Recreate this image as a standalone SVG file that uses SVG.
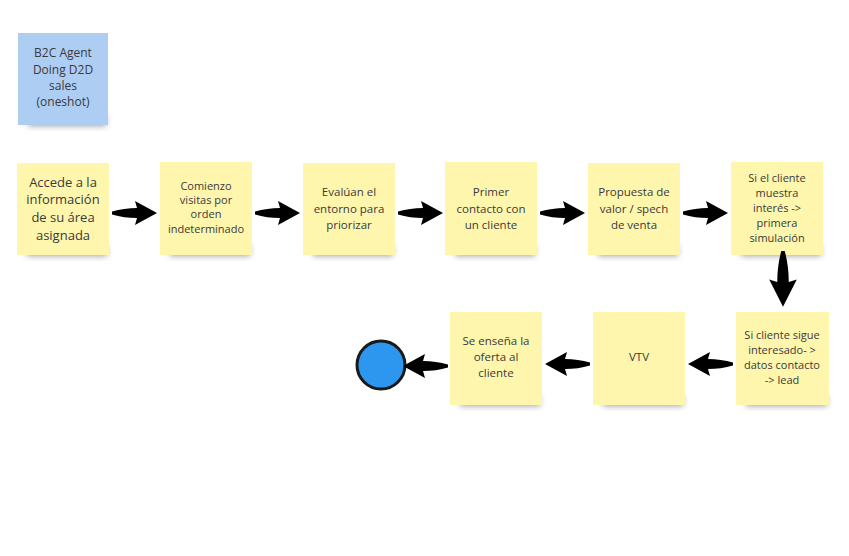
<svg xmlns="http://www.w3.org/2000/svg" width="849" height="556" viewBox="0 0 849 556">
<style>
.note{fill:#fff6ad}
.blue{fill:#aecdf3}
.sh{fill:#444;opacity:0.5;filter:url(#blur)}
.t{font-family:"Open Sans","Liberation Sans",sans-serif;fill:#3a3a3a;text-anchor:middle}
.arr{fill:#000}
</style>
<defs>
<filter id="blur" x="-20%" y="-50%" width="140%" height="200%"><feGaussianBlur stdDeviation="3"/></filter>
<path id="a" d="M0,-1.5 Q12,-5 25,-5 L23,-12 L45,0 L23,12 L25,5 Q12,5 0,1.5 Z"/>
</defs>
<rect width="849" height="556" fill="#fff"/>

<g id="n0">
<rect class="sh" x="28" y="116" width="78" height="10"/>
<rect class="blue" x="18" y="33" width="90" height="92"/>
<text class="t" font-size="12" x="63" y="57">B2C Agent</text>
<text class="t" font-size="12" x="63" y="74">Doing D2D</text>
<text class="t" font-size="12" x="63" y="90">sales</text>
<text class="t" font-size="12" x="63" y="106">(oneshot)</text>
</g>

<g id="n1">
<rect class="sh" x="27" y="246" width="80" height="10"/>
<rect class="note" x="17" y="163" width="92" height="92"/>
<text class="t" font-size="13" x="63" y="187">Accede a la</text>
<text class="t" font-size="13" x="63" y="204">información</text>
<text class="t" font-size="13" x="63" y="222">de su área</text>
<text class="t" font-size="13" x="63" y="240">asignada</text>
</g>

<g id="n2">
<rect class="sh" x="170" y="246" width="80" height="10"/>
<rect class="note" x="160" y="162" width="92" height="93"/>
<text class="t" font-size="11" x="206" y="190">Comienzo</text>
<text class="t" font-size="11" x="206" y="204">visitas por</text>
<text class="t" font-size="11" x="206" y="218">orden</text>
<text class="t" font-size="11" x="206" y="233">indeterminado</text>
</g>

<g id="n3">
<rect class="sh" x="313" y="246" width="80" height="10"/>
<rect class="note" x="303" y="163" width="92" height="92"/>
<text class="t" font-size="11.5" x="349" y="196">Evalúan el</text>
<text class="t" font-size="11.5" x="349" y="213">entorno para</text>
<text class="t" font-size="11.5" x="349" y="229">priorizar</text>
</g>

<g id="n4">
<rect class="sh" x="455" y="246" width="80" height="10"/>
<rect class="note" x="445" y="162" width="92" height="93"/>
<text class="t" font-size="11.5" x="491" y="196">Primer</text>
<text class="t" font-size="11.5" x="491" y="213">contacto con</text>
<text class="t" font-size="11.5" x="491" y="229">un cliente</text>
</g>

<g id="n5">
<rect class="sh" x="598" y="246" width="80" height="10"/>
<rect class="note" x="588" y="163" width="92" height="92"/>
<text class="t" font-size="11.5" x="634" y="196">Propuesta de</text>
<text class="t" font-size="11.5" x="634" y="213">valor / spech</text>
<text class="t" font-size="11.5" x="634" y="229">de venta</text>
</g>

<g id="n6">
<rect class="sh" x="741" y="246" width="80" height="10"/>
<rect class="note" x="731" y="162" width="92" height="93"/>
<text class="t" font-size="11" x="777" y="182">Si el cliente</text>
<text class="t" font-size="11" x="777" y="197">muestra</text>
<text class="t" font-size="11" x="777" y="212">interés -&gt;</text>
<text class="t" font-size="11" x="777" y="227">primera</text>
<text class="t" font-size="11" x="777" y="242">simulación</text>
</g>

<g id="n7">
<rect class="sh" x="746" y="396" width="81" height="10"/>
<rect class="note" x="736" y="312" width="93" height="93"/>
<text class="t" font-size="11" x="782" y="339">Si cliente sigue</text>
<text class="t" font-size="11" x="782" y="354">interesado- &gt;</text>
<text class="t" font-size="11" x="782" y="369">datos contacto</text>
<text class="t" font-size="11" x="782" y="384">-&gt; lead</text>
</g>

<g id="n8">
<rect class="sh" x="603" y="396" width="80" height="10"/>
<rect class="note" x="593" y="312" width="92" height="93"/>
<text class="t" font-size="11.5" x="639" y="361">VTV</text>
</g>

<g id="n9">
<rect class="sh" x="460" y="396" width="80" height="10"/>
<rect class="note" x="450" y="312" width="92" height="93"/>
<text class="t" font-size="11.5" x="496" y="345">Se enseña la</text>
<text class="t" font-size="11.5" x="496" y="361">oferta al</text>
<text class="t" font-size="11.5" x="496" y="377">cliente</text>
</g>

<g id="end">
<circle cx="381" cy="365" r="24" fill="#2d96ee" stroke="#1a1a1a" stroke-width="3"/>
</g>

<g id="connectors" class="arr">
<use href="#a" transform="translate(112,213)"/>
<use href="#a" transform="translate(255,213)"/>
<use href="#a" transform="translate(398,213)"/>
<use href="#a" transform="translate(540,213)"/>
<use href="#a" transform="translate(683,213)"/>
<use href="#a" transform="translate(783,251) rotate(90) scale(1.24,1.15)"/>
<use href="#a" transform="translate(733,364) rotate(180)"/>
<use href="#a" transform="translate(590,364) rotate(180)"/>
<use href="#a" transform="translate(448,366) rotate(180)"/>
</g>
</svg>
